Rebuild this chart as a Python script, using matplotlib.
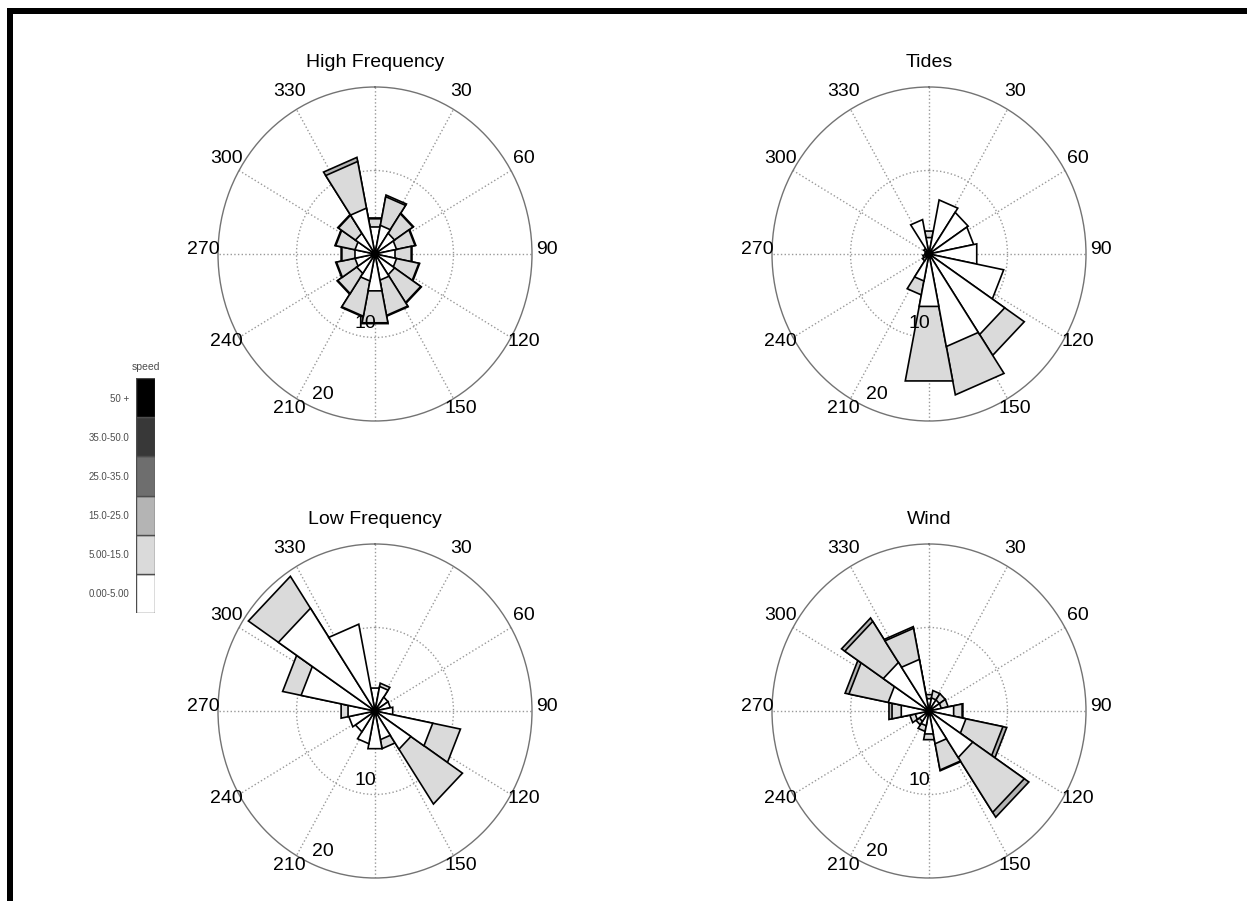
import numpy as np
import matplotlib
matplotlib.use('Agg')
import matplotlib.pyplot as plt
from matplotlib.patches import Rectangle

plt.rcParams['font.family'] = ['Liberation Sans', 'DejaVu Sans']

# 16 direction sectors (deg, clockwise from north)
directions = np.arange(16) * 22.5
speed_labels = ['0.00-5.00', '5.00-15.0', '15.0-25.0', '25.0-35.0', '35.0-50.0', '50 +']
speed_colors = ['#ffffff', '#dadada', '#b4b4b4', '#6e6e6e', '#383838', '#000000']

# frequency (%) per sector and speed class
hf_0_5 = [3.3, 3.5, 3.0, 2.8, 2.6, 2.8, 3.0, 3.2, 4.5, 3.3, 2.8, 2.6, 2.6, 2.6, 3.0, 5.6]
hf_5_15 = [1.0, 3.5, 2.8, 2.4, 2.1, 2.9, 4.0, 4.3, 3.9, 4.3, 2.9, 2.4, 1.7, 2.5, 2.6, 5.7]
hf_15_25 = [0.1, 0.2, 0.1, 0.1, 0.1, 0.1, 0.1, 0.1, 0.1, 0.1, 0.1, 0.1, 0.1, 0.1, 0.1, 0.5]

td_0_5 = [2.0, 6.6, 6.0, 5.8, 6.2, 9.7, 11.6, 11.3, 6.4, 3.3, 1.0, 0.8, 0.5, 0.5, 0.8, 4.2]
td_5_15 = [0.8, 0.0, 0.0, 0.0, 0.0, 0.0, 3.0, 5.9, 9.1, 1.7, 0.0, 0.0, 0.0, 0.0, 0.0, 0.0]
td_15_25 = [0.0] * 16

lf_0_5 = [2.8, 3.0, 2.0, 2.0, 2.3, 7.5, 5.5, 3.5, 4.6, 4.0, 3.0, 3.4, 3.5, 9.6, 14.8, 10.6]
lf_5_15 = [0.0, 0.4, 0.0, 0.0, 0.0, 3.6, 7.9, 1.1, 0.0, 0.0, 0.0, 0.0, 0.9, 2.4, 4.6, 0.0]
lf_15_25 = [0.0] * 16

wd_0_5 = [1.5, 1.6, 1.6, 1.6, 3.2, 4.8, 6.7, 4.0, 2.8, 1.8, 1.5, 1.8, 3.6, 5.3, 7.0, 6.3]
wd_5_15 = [0.5, 0.9, 0.9, 0.9, 1.1, 4.8, 7.9, 3.2, 0.7, 0.7, 0.5, 0.7, 1.2, 5.1, 5.9, 3.8]
wd_15_25 = [0.0, 0.0, 0.0, 0.0, 0.1, 0.5, 0.7, 0.1, 0.0, 0.0, 0.0, 0.0, 0.4, 0.5, 0.5, 0.2]

panels = [
    ('High Frequency', [hf_0_5, hf_5_15, hf_15_25]),
    ('Tides', [td_0_5, td_5_15, td_15_25]),
    ('Low Frequency', [lf_0_5, lf_5_15, lf_15_25]),
    ('Wind', [wd_0_5, wd_5_15, wd_15_25]),
]

W, H = 1247, 901
fig = plt.figure(figsize=(W / 100, H / 100), dpi=100)
fig.patch.set_facecolor('white')

centers = [(375, 254), (929, 254), (375, 711), (929, 711)]
rx, ry = 157, 167
rmax = 20


def rose(ax, classes, title):
    ax.set_theta_zero_location('N')
    ax.set_theta_direction(-1)
    ax.set_aspect('auto')
    ax.set_ylim(0, rmax)
    ax.set_thetagrids(np.arange(0, 360, 30), labels=[''] * 12)
    ax.set_rgrids([10], labels=[''])
    ax.grid(True, linestyle=':', color='0.6', linewidth=1)
    ax.spines['polar'].set_color('0.45')
    ax.spines['polar'].set_linewidth(1)
    ax.tick_params(length=0)

    vals = np.array(classes)
    cum = np.cumsum(vals, axis=0)
    th = np.deg2rad(directions)
    half = np.deg2rad(22.5) / 2
    # outer classes first, inner classes drawn on top
    for k in range(len(classes) - 1, -1, -1):
        for i in range(len(directions)):
            if vals[k, i] <= 0:
                continue
            r = cum[k, i]
            ax.fill([0, th[i] - half, th[i] + half], [0, r, r],
                    facecolor=speed_colors[k], edgecolor='k', linewidth=1.2, zorder=3)

    for a in range(30, 360, 30):
        if a == 180:
            continue
        ax.annotate(str(a), xy=(np.deg2rad(a), 21.9), xytext=(0, 3), textcoords='offset points',
                    ha='center', va='center', fontsize=14, annotation_clip=False)
    ax.text(np.deg2rad(188.8), 8.4, '10', ha='center', va='center', fontsize=14, zorder=5)
    ax.text(np.deg2rad(201.4), 18.1, '20', ha='center', va='center', fontsize=14, zorder=5)
    ax.text(0.5, 1.072, title, transform=ax.transAxes, ha='center', va='center', fontsize=14)


for (title, classes), (cx, cy) in zip(panels, centers):
    ax = fig.add_axes([(cx - rx) / W, (H - cy - ry) / H, 2 * rx / W, 2 * ry / H], projection='polar')
    rose(ax, classes, title)

# speed legend
lax = fig.add_axes([136 / W, (H - 613) / H, 19 / W, 235 / H])
for i, c in enumerate(speed_colors):
    lax.bar(0, 1, bottom=i, width=1, color=c, edgecolor='0.3', linewidth=1)
lax.set_xlim(-0.5, 0.5)
lax.set_ylim(0, len(speed_colors))
lax.set_xticks([])
lax.set_yticks(np.arange(len(speed_labels)) + 0.5, speed_labels)
lax.tick_params(axis='y', length=0, pad=5, labelsize=7, labelcolor='0.3')
for s in lax.spines.values():
    s.set_visible(False)
lax.set_title('speed', fontsize=7.5, color='0.3', pad=6)

# thick black frame (top and left)
fig.add_artist(Rectangle((7 / W, (H - 14) / H), 1, 6 / H, transform=fig.transFigure,
                         facecolor='k', edgecolor='none'))
fig.add_artist(Rectangle((7 / W, 0), 6 / W, (H - 8) / H, transform=fig.transFigure,
                         facecolor='k', edgecolor='none'))

fig.savefig('out.png', dpi=100, facecolor='white')
